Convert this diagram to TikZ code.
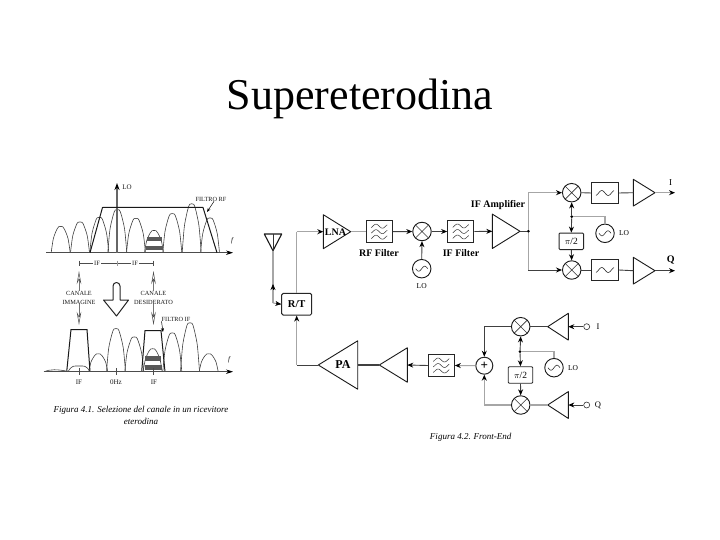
\documentclass[tikz,border=0pt]{standalone}
\usepackage{fontspec}
\setmainfont{Liberation Serif}
\usetikzlibrary{arrows.meta}
\newcommand{\ampT}[5]{% name, base x, tip x, y, half height
  \draw[amp] (#2,#4-#5) -- (#3,#4) -- (#2,#4+#5) -- cycle;
  \coordinate (#1-b) at (#2,#4);
  \coordinate (#1-t) at (#3,#4);
}
\newcommand{\bellS}[3]{% cx, top y, base y
  \pgfmathsetmacro{\hH}{#3-#2}
  \draw[bell] plot[smooth,tension=0.55] coordinates {
    ({#1-9.5},{#3}) ({#1-8.8},{#3-0.2*\hH}) ({#1-7.3},{#3-0.55*\hH}) ({#1-5.2},{#3-0.78*\hH}) ({#1-3.8},{#3-0.9*\hH}) ({#1-2},{#3-\hH})
    ({#1+2},{#3-\hH}) ({#1+3.8},{#3-0.9*\hH}) ({#1+5.2},{#3-0.78*\hH}) ({#1+7.3},{#3-0.55*\hH}) ({#1+8.8},{#3-0.2*\hH}) ({#1+9.5},{#3}) };
}
\tikzset{
  x=1pt,y=-1pt,
  amp/.style={draw=black!90,line width=0.9pt,line join=round},
  bell/.style={draw=black!75,line width=0.6pt},
  wire/.style={draw=black!75,line width=0.9pt},
  gwire/.style={draw=black!35,line width=1.1pt},
  arr/.style={-{Stealth[length=6pt,width=5pt,color=black]}},
  mixer/.style={circle,draw=black!90,line width=0.9pt,minimum size=18.5pt,inner sep=0pt,fill=white,
    path picture={\draw[black!80,line width=0.6pt] (path picture bounding box.south west) -- (path picture bounding box.north east)
      (path picture bounding box.north west) -- (path picture bounding box.south east);}},
  lo/.style={circle,draw=black!90,line width=0.9pt,minimum size=18.5pt,inner sep=0pt,fill=white,
    path picture={\draw[black!80,line width=0.6pt,shift={(path picture bounding box.center)}] plot[domain=-6:6,samples=25,smooth] (\x,{-2.5*sin(30*\x)});}},
  filt/.style={rectangle,draw=black!85,line width=1.1pt,minimum width=26pt,minimum height=21.5pt,inner sep=0pt,fill=white,
    path picture={\draw[black!80,line width=0.5pt,shift={(path picture bounding box.center)}]
      plot[domain=-8:8,samples=25,smooth] (\x,{-5.5+2*sin(28*\x)})
      plot[domain=-8:8,samples=25,smooth] (\x,{2*sin(28*\x)})
      plot[domain=-8:8,samples=25,smooth] (\x,{5.5+2*sin(28*\x)});}},
  filt2/.style={rectangle,draw=black!85,line width=1.1pt,minimum width=26.5pt,minimum height=21.5pt,inner sep=0pt,fill=white,
    path picture={\draw[black!80,line width=0.6pt,shift={(path picture bounding box.center)}]
      plot[domain=-9:9,samples=25,smooth] (\x,{2.5*sin(28*\x)});}},
  pibox/.style={rectangle,rounded corners=1pt,draw=black!85,line width=0.9pt,minimum width=24.5pt,minimum height=16.5pt,inner sep=0pt,fill=white,font=\fontsize{9.5}{10}\selectfont},
  dotn/.style={circle,fill=black,minimum size=3pt,inner sep=0pt},
  lab/.style={font=\fontsize{7.5}{8}\selectfont,inner sep=0pt},
  blab/.style={font=\fontsize{10}{11}\selectfont\bfseries,inner sep=0pt},
  tiny/.style={font=\fontsize{6.3}{9}\selectfont,inner sep=0pt,align=center,text=black!90},
  capt/.style={font=\fontsize{9}{10}\selectfont\itshape,inner sep=0pt},
  axisl/.style={draw=black!70,line width=0.8pt,-{Stealth[length=7pt,width=4.5pt,color=black]}},
  filterline/.style={draw=black!90,line width=1pt,line join=round},
  stripe/.style={fill=black!65,draw=none},
  thinarr/.style={draw=black!55,line width=0.5pt,-{Stealth[length=13pt,width=4.5pt,open,color=black!70]}},
}
\begin{document}
\begin{tikzpicture}
\useasboundingbox (0,0) rectangle (720,540);
\fill[white] (0,0) rectangle (720,540);
\node[inner sep=0pt,font=\fontsize{44}{48}\selectfont] (title) at (360,99) {Supereterodina};

% ---- Left figure: upper spectrum
\foreach \c/\t in {60.7/226.7,80/222.3,99.3/217.7,117.3/210,136/218.7,154/230.7,172.3/214,191.7/204.3,210/218.3}{\bellS{\c}{\t}{252.7}}
\fill[stripe] (146.5,237) rectangle (162,241);
\fill[stripe] (145.5,246) rectangle (163,250);
\coordinate (a1) at (46,252.7); \coordinate (a2) at (233,252.7);
\draw[axisl] (a1) -- (a2);
\coordinate (lo1) at (117,252.7); \coordinate (lo2) at (117,183);
\draw[draw=black!60,line width=1.4pt,-{Stealth[length=7pt,width=5pt,color=black]}] (lo1) -- (lo2);
\node[tiny,font=\fontsize{7}{8}\selectfont] (lolab) at (127,187) {LO};
\draw[filterline] (90,252.7) -- (102.5,207.5) -- (203,207.5) -- (217,252.7);
\node[tiny] (frf) at (211,199) {FILTRO RF};
\coordinate (frfp) at (207,212);
\draw[draw=black,line width=0.5pt,-{Stealth[length=4pt,width=3pt]}] (frf.south) ++(3,0) -- (frfp);
\node[tiny,font=\fontsize{7}{8}\selectfont] (f1) at (232,241) {\itshape f};

% IF markers
\node[tiny,font=\fontsize{6.5}{7}\selectfont,fill=white,inner sep=1pt] (if1) at (97,263.3) {IF};
\node[tiny,font=\fontsize{6.5}{7}\selectfont,fill=white,inner sep=1pt] (if2) at (135,263.3) {IF};
\coordinate (m1) at (79.5,263.3); \coordinate (m2) at (117,263.3); \coordinate (m3) at (153.5,263.3);
\draw[black!70,line width=0.5pt] (m1) -- (if1) (if1) -- (m2) -- (if2) (if2) -- (m3);
\draw[black!70,line width=0.5pt] (79.5,260.5) -- (79.5,266) (153.5,260.5) -- (153.5,266);
\draw[black!40,line width=0.5pt] (117,260.5) -- (117,266);

% Labels between spectra
\node[tiny] (cim) at (79,297.5) {CANALE\\IMMAGINE};
\node[tiny] (cde) at (153.5,297.5) {CANALE\\DESIDERATO};
\coordinate (u1) at (79,271); \coordinate (u2) at (153.5,271);
\coordinate (d1) at (79,325); \coordinate (d2) at (153.5,325);
\draw[thinarr] (cim.north) -- (u1);
\draw[thinarr] (cde.north) -- (u2);
\draw[thinarr] (cim.south) -- (d1);
\draw[thinarr] (cde.south) -- (d2);
\draw[line width=1pt,black!85,line join=round]
  (113,300) -- (113,286) arc[start angle=180,end angle=360,radius=3.5] -- (120,300) -- (128.5,300) -- (116.5,316) -- (103.5,300) -- cycle;

% Lower spectrum
\draw[bell] (44,371.7) .. controls (50,369) and (58,369.5) .. (66,371);
\draw[bell] (68,371.7) .. controls (72,365) and (74,366) .. (79,366) .. controls (84,366) and (86,365) .. (90,371.7);
\foreach \c/\t in {98.3/354,116/329,134.3/337.3,152.7/349,172.3/333.3,190/323.3,208.7/354}{\bellS{\c}{\t}{371.7}}
\fill[stripe] (145,356) rectangle (161,361);
\fill[stripe] (144.5,365) rectangle (162,369.5);
\draw[filterline] (66.7,371.7) -- (71,329.5) -- (87,329.5) -- (90,371.7);
\draw[filterline] (141.7,371.7) -- (145,330.5) -- (161,330.5) -- (165,371.7);
\coordinate (b1) at (45,371.7); \coordinate (b2) at (233,371.7);
\draw[axisl] (b1) -- (b2);
\node[tiny] (fif) at (176,319) {FILTRO IF};
\coordinate (fifp) at (163,332);
\draw[draw=black,line width=0.5pt,-{Stealth[length=4pt,width=3pt]}] (fif.south west) -- (fifp);
\node[tiny,font=\fontsize{7}{8}\selectfont] (f2) at (229,360) {\itshape f};
\draw[black!70,line width=0.8pt] (79,368) -- (79,375) (116,368) -- (116,375) (153.5,368) -- (153.5,375);
\node[tiny,font=\fontsize{7}{8}\selectfont] (l1) at (79,382) {IF};
\node[tiny,font=\fontsize{7}{8}\selectfont] (l2) at (116,382) {0Hz};
\node[tiny,font=\fontsize{7}{8}\selectfont] (l3) at (154,382) {IF};
\node[capt] (cap1) at (141,410) {Figura 4.1. Selezione del canale in un ricevitore};
\node[capt] (cap1b) at (141,421.5) {eterodina};

% ---- Right figure: receiver
\coordinate (antt) at (273,250.7);
\draw[line width=1.1pt,black!90,line join=round] (264.3,234) -- (281.7,234) -- (antt) -- cycle;
\draw[line width=0.6pt,black!80] (273,234) -- (antt);
\node[rectangle,rounded corners=1.5pt,draw=black!85,line width=1pt,minimum width=30pt,minimum height=21.7pt,inner sep=0pt,fill=white,font=\fontsize{10.5}{11}\selectfont\bfseries] (rt) at (296.7,304.2) {R/T};
\coordinate (ac) at (273,303);
\draw[gwire] (antt) -- (ac);
\draw[gwire] (ac) -- (rt.west);
\draw[arr,draw=black,line width=0.6pt] (273,290) -- (273,284);
\draw[arr,draw=black,line width=0.6pt] (276,303.5) -- (rt.west);
\coordinate (rtc) at (296.7,231.7);
\ampT{lna}{323.3}{350.7}{231.7}{17}
\node[blab] at (335.5,231.7) {LNA};
\draw[gwire] (rt.north) -- (rtc);
\draw[gwire,arr] (rtc) -- (lna-b);
\node[filt] (rf) at (379.2,231.7) {};
\node[mixer] (mx) at (422,231.5) {};
\node[filt] (iff) at (460.7,231.5) {};
\node[lo] (rxlo) at (421.7,268.7) {};
\draw[gwire] (lna-t) -- (rf.west);
\draw[wire,arr] (rf.east) -- (mx.west);
\draw[wire,arr] (mx.east) -- (iff.west);
\draw[wire,arr] (rxlo.north) -- (mx.south);
\node[lab] (lolab2) at (421.7,286) {LO};
\node[blab] at (379,253) {RF Filter};
\node[blab] at (461,253) {IF Filter};
\node[blab] at (498,205) {IF Amplifier};
\ampT{ifa}{492.3}{520}{231.3}{17.2}
\draw[wire,arr] (iff.east) -- (ifa-b);
\node[dotn] (sp) at (528.3,231.3) {};
\draw[wire] (ifa-t) -- (sp);
\node[mixer] (mi) at (571.7,192.7) {};
\node[mixer] (mq) at (571.7,270) {};
\coordinate (c1) at (528.3,192.7); \coordinate (c2) at (528.3,270);
\draw[gwire] (sp) -- (c1);
\draw[gwire,arr] (c1) -- (mi.west);
\draw[gwire] (sp) -- (c2);
\draw[wire,arr] (c2) -- (mq.west);
\node[filt2] (fi) at (605,193) {};
\node[filt2] (fq) at (605,270) {};
\draw[wire] (mi.east) -- (fi.west);
\draw[wire] (mq.east) -- (fq.west);
\ampT{ai}{633.3}{655}{192.7}{13.4}
\ampT{aq}{633.3}{655}{270.7}{13.4}
\draw[wire] (fi.east) -- (ai-b);
\draw[wire] (fq.east) -- (aq-b);
\coordinate (oi) at (675,192.7); \coordinate (oq) at (675,270.7);
\draw[gwire,arr] (ai-t) -- (oi);
\draw[wire,arr] (aq-t) -- (oq);
\node[lab,font=\fontsize{9}{10}\selectfont] at (670.7,182.7) {I};
\node[blab] at (670.7,260) {Q};
\node[pibox] (pi1) at (571.3,241.3) {$\pi$/2};
\node[dotn] (d1r) at (571.7,216.7) {};
\node[lo] (lo1c) at (605,233.3) {};
\node[lab] at (624,233.3) {LO};
\coordinate (cr1) at (605,216.7);
\draw[wire,arr] (d1r) -- (mi.south);
\draw[wire,arr] (d1r) -- (pi1.north);
\draw[wire,arr] (pi1.south) -- (mq.north);
\draw[gwire] (d1r) -- (cr1) -- (lo1c.north);

% ---- Transmitter
\ampT{pa}{357.7}{318.3}{365}{24.2}
\node[blab,font=\fontsize{12}{13}\selectfont\bfseries] at (343,365) {PA};
\ampT{drv}{407.3}{379.3}{365}{17.2}
\node[filt] (tf) at (441.3,365.5) {};
\node[circle,draw=black!85,line width=1pt,minimum size=17pt,inner sep=0pt,fill=white,font=\fontsize{13}{13}\selectfont\bfseries] (sum) at (484.3,365.7) {+};
\node[mixer] (ti) at (520.7,326.7) {};
\node[mixer] (tq) at (520.7,405) {};
\coordinate (s1) at (484.3,326.7); \coordinate (s2) at (484.3,405);
\coordinate (pc) at (296.7,365);
\draw[wire] (pa-t) -- (pc);
\draw[gwire,arr] (pc) -- (rt.south);
\draw[wire,line width=1.3pt] (pa-b) -- (drv-t);
\draw[wire,arr] (tf.west) -- (drv-b);
\draw[wire,arr] (ti.west) -- (s1) -- (sum.north);
\draw[gwire,arr] (tq.west) -- (s2) -- (sum.south);
\draw[gwire,arr] (sum.west) -- (tf.east);
\node[pibox] (pi2) at (520.5,375) {$\pi$/2};
\node[dotn] (d2r) at (520,351.7) {};
\node[lo] (lo2c) at (554,367.7) {};
\node[lab] at (573,367.7) {LO};
\coordinate (cr2) at (554,351.7);
\draw[wire,arr] (d2r) -- (ti.south);
\draw[wire,arr] (d2r) -- (pi2.north);
\draw[wire,arr] (pi2.south) -- (tq.north);
\draw[gwire] (d2r) -- (cr2) -- (lo2c.north);
\ampT{ti2}{568.3}{547.7}{326.7}{13.4}
\ampT{tq2}{568.3}{547.7}{405}{13.4}
\draw[wire] (ti2-t) -- (ti.east);
\draw[gwire] (tq2-t) -- (tq.east);
\node[circle,draw=black!80,line width=0.6pt,minimum size=6pt,inner sep=0pt] (ii) at (586.7,326.7) {};
\node[circle,draw=black!80,line width=0.6pt,minimum size=6pt,inner sep=0pt] (iq) at (586.7,405) {};
\draw[wire,arr] (ii) -- (ti2-b);
\draw[wire,arr] (iq) -- (tq2-b);
\node[lab,font=\fontsize{8.5}{9}\selectfont] at (598,326.7) {I};
\node[lab,font=\fontsize{8.5}{9}\selectfont] at (598,405) {Q};
\node[capt] (cap2) at (470.7,437.7) {Figura 4.2. Front-End};
\end{tikzpicture}
\end{document}
